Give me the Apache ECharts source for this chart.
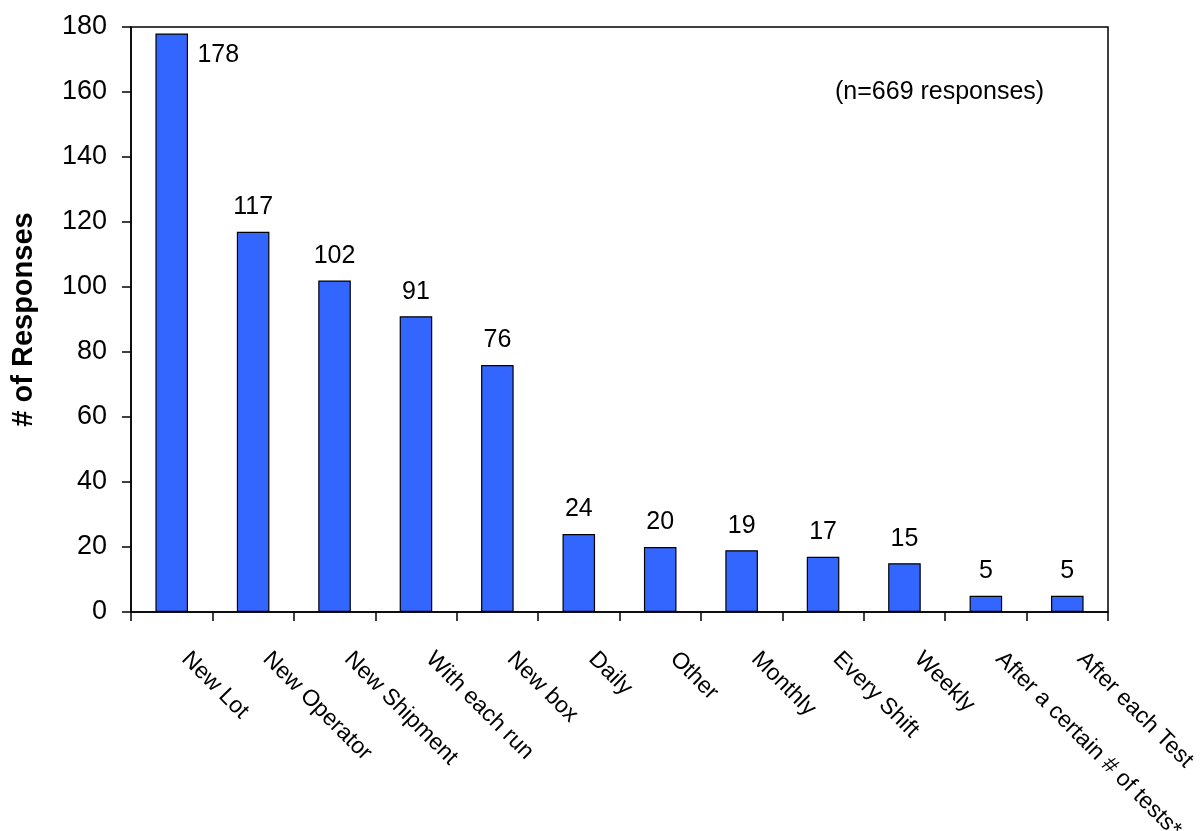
<!DOCTYPE html>
<html><head><meta charset="utf-8">
<script src="https://cdn.jsdelivr.net/npm/echarts@6/dist/echarts.min.js"></script>
<style>html,body{margin:0;padding:0;background:#fff}#c{width:1201px;height:831px}</style>
</head><body><div id="c"></div>
<script>
const categories = ["New Lot","New Operator","New Shipment","With each run","New box","Daily","Other","Monthly","Every Shift","Weekly","After a certain # of tests*","After each Test"];
const responses = [178,117,102,91,76,24,20,19,17,15,5,5];
const yTicks = {min:0, max:180, interval:20};
const yTitle = "# of Responses";
const note = "(n=669 responses)";

const FONT = '"Liberation Sans", Arial, sans-serif';
const data = responses.map((v,i)=> i===0 ? {value:v, label:{position:[42,9], align:'left', verticalAlign:'top'}} : v);

const chart = echarts.init(document.getElementById('c'), null, {renderer:'canvas'});
chart.setOption({
  animation:false,
  grid:{left:131, right:93, top:27, bottom:219, outerBoundsMode:'none', containLabel:false, show:true, borderColor:'#000', borderWidth:1.5, backgroundColor:'transparent'},
  xAxis:{type:'category', data:categories,
    axisLine:{lineStyle:{color:'#000', width:1.5}},
    axisTick:{show:true, length:9, lineStyle:{color:'#000', width:1.5}},
    axisLabel:{rotate:-45, margin:30, padding:[0,0,0,19], color:'#000', fontSize:23, fontFamily:FONT, interval:0}},
  yAxis:{type:'value', min:yTicks.min, max:yTicks.max, interval:yTicks.interval,
    name:yTitle, nameLocation:'middle', nameGap:93,
    nameTextStyle:{fontSize:29, fontWeight:'bold', fontFamily:FONT, color:'#000'},
    axisLine:{show:true, lineStyle:{color:'#000', width:1.5}},
    axisTick:{show:true, length:9, lineStyle:{color:'#000', width:1.5}},
    axisLabel:{color:'#000', fontSize:27, fontFamily:FONT, margin:24},
    splitLine:{show:false}},
  series:[{type:'bar', data:data, barWidth:'40%',
    itemStyle:{color:'#3366FF', borderColor:'#000', borderWidth:1.2},
    label:{show:true, position:'top', distance:12, color:'#000', fontSize:25, fontFamily:FONT}}],
  graphic:[{type:'text', left:835, top:80, style:{text:note, font:'25px '+FONT, fill:'#000'}}]
});
</script></body></html>
